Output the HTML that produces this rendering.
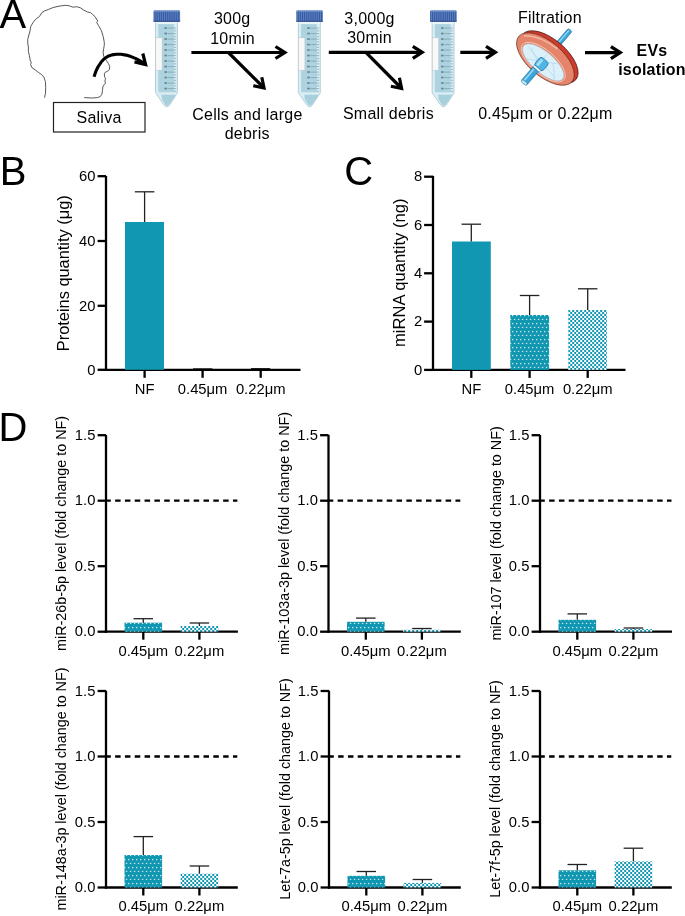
<!DOCTYPE html>
<html><head><meta charset="utf-8"><style>
html,body{margin:0;padding:0;background:#fff;}
body{width:685px;height:916px;overflow:hidden;position:relative;}
svg{position:absolute;left:0;top:0;will-change:transform;}
text{font-family:"Liberation Sans", sans-serif;fill:#000;}
</style></head><body>
<svg width="685" height="916" viewBox="0 0 685 916">
<defs>
<pattern id="dots" patternUnits="userSpaceOnUse" width="4" height="8" x="0" y="0">
<rect width="4" height="8" fill="#1297b2"/>
<rect x="0.05" y="2.95" width="1.3" height="1.3" fill="#fff" opacity="0.8"/>
<rect x="1.95" y="6.85" width="1.3" height="1.3" fill="#fff" opacity="0.8"/>
</pattern>
<pattern id="chk" patternUnits="userSpaceOnUse" width="4" height="4" x="2.2" y="0">
<rect width="4" height="4" fill="#fff"/>
<rect x="0" y="0" width="2" height="2" fill="#1297b2"/>
<rect x="2" y="2" width="2" height="2" fill="#1297b2"/>
</pattern>
<pattern id="ridge" patternUnits="userSpaceOnUse" width="1.9" height="20">
<rect width="1.9" height="20" fill="#5a80c2"/>
<rect width="0.9" height="20" fill="#34569a"/>
</pattern>
<g id="tube">
<path d="M2 11 L24 11 L24 82.3 L16.2 94.4 Q13.3 98.2 10.4 94.4 L2 82.3 Z" fill="#d9edf3" stroke="#93b6c5" stroke-width="0.6"/>
<rect x="4.8" y="13.6" width="15.8" height="68.2" rx="0.8" fill="#acd3df"/>
<rect x="2.3" y="11.2" width="21.4" height="2.4" fill="#e8f4f7"/>
<path d="M8 84.2 L21.6 84.2 Q22.3 84.6 21.6 85.8 L15.4 94.2 Q13.6 96.4 11.8 94.2 L8.6 89 Z" fill="#a7cfdc"/>
<rect x="2.3" y="27.3" width="6.3" height="32.4" fill="#f8f8f8" stroke="#bcc6ca" stroke-width="0.5"/>
<g stroke="#6f94a6" stroke-width="0.6">

<line x1="14.2" y1="17.60" x2="20.3" y2="17.60"/>
<line x1="20.5" y1="20.35" x2="22.8" y2="20.35"/>
<line x1="20.5" y1="17.60" x2="22.8" y2="17.60"/>
<line x1="14.2" y1="23.10" x2="20.3" y2="23.10"/>
<line x1="20.5" y1="25.85" x2="22.8" y2="25.85"/>
<line x1="20.5" y1="23.10" x2="22.8" y2="23.10"/>
<line x1="14.2" y1="28.60" x2="20.3" y2="28.60"/>
<line x1="20.5" y1="31.35" x2="22.8" y2="31.35"/>
<line x1="20.5" y1="28.60" x2="22.8" y2="28.60"/>
<line x1="14.2" y1="34.10" x2="20.3" y2="34.10"/>
<line x1="20.5" y1="36.85" x2="22.8" y2="36.85"/>
<line x1="20.5" y1="34.10" x2="22.8" y2="34.10"/>
<line x1="14.2" y1="39.60" x2="20.3" y2="39.60"/>
<line x1="20.5" y1="42.35" x2="22.8" y2="42.35"/>
<line x1="20.5" y1="39.60" x2="22.8" y2="39.60"/>
<line x1="14.2" y1="45.10" x2="20.3" y2="45.10"/>
<line x1="20.5" y1="47.85" x2="22.8" y2="47.85"/>
<line x1="20.5" y1="45.10" x2="22.8" y2="45.10"/>
<line x1="14.2" y1="50.60" x2="20.3" y2="50.60"/>
<line x1="20.5" y1="53.35" x2="22.8" y2="53.35"/>
<line x1="20.5" y1="50.60" x2="22.8" y2="50.60"/>
<line x1="14.2" y1="56.10" x2="20.3" y2="56.10"/>
<line x1="20.5" y1="58.85" x2="22.8" y2="58.85"/>
<line x1="20.5" y1="56.10" x2="22.8" y2="56.10"/>
<line x1="14.2" y1="61.60" x2="20.3" y2="61.60"/>
<line x1="20.5" y1="64.35" x2="22.8" y2="64.35"/>
<line x1="20.5" y1="61.60" x2="22.8" y2="61.60"/>
<line x1="14.2" y1="67.10" x2="20.3" y2="67.10"/>
<line x1="20.5" y1="69.85" x2="22.8" y2="69.85"/>
<line x1="20.5" y1="67.10" x2="22.8" y2="67.10"/>
<line x1="14.2" y1="72.60" x2="20.3" y2="72.60"/>
<line x1="20.5" y1="75.35" x2="22.8" y2="75.35"/>
<line x1="20.5" y1="72.60" x2="22.8" y2="72.60"/>
<line x1="14.2" y1="78.10" x2="20.3" y2="78.10"/>
<line x1="20.5" y1="80.85" x2="22.8" y2="80.85"/>
<line x1="20.5" y1="78.10" x2="22.8" y2="78.10"/>
</g><g fill="#46525c" opacity="0.6">
<rect x="10.9" y="16.70" width="2.6" height="1.7"/>
<rect x="10.9" y="22.20" width="2.6" height="1.7"/>
<rect x="10.9" y="27.70" width="2.6" height="1.7"/>
<rect x="10.9" y="33.20" width="2.6" height="1.7"/>
<rect x="10.9" y="38.70" width="2.6" height="1.7"/>
<rect x="10.9" y="44.20" width="2.6" height="1.7"/>
<rect x="10.9" y="49.70" width="2.6" height="1.7"/>
<rect x="10.9" y="55.20" width="2.6" height="1.7"/>
<rect x="10.9" y="60.70" width="2.6" height="1.7"/>
<rect x="10.9" y="66.20" width="2.6" height="1.7"/>
<rect x="10.9" y="71.70" width="2.6" height="1.7"/>
<rect x="10.9" y="77.20" width="2.6" height="1.7"/>
</g>
<rect x="0" y="0" width="26.6" height="11.2" rx="1.2" fill="url(#ridge)"/>
<rect x="0.3" y="0" width="26" height="1.2" rx="0.6" fill="#7294cc"/>
<rect x="0" y="10.2" width="26.6" height="1.1" fill="#34528f"/>
</g>
</defs>

<text font-size="40" text-anchor="start" transform="translate(-0.5 27.8)">A</text>
<path d="M44.5 97.6 L45.5 93.2 L45.7 87.3 L45.4 81.5 L43.9 77.1 L41.7 74.6 L38.8 72.7 L35.1 69.8 L31.9 67.6 L30.6 64.7 L31.3 62.2 L30.4 61.1 L29.3 55.2 L28.4 51.6 L28.4 47 L27.8 43.8 L27.7 39.4 L28.9 35 L30 30.7 L30.8 26.3 L33 22.6 L35.5 19.3 L39.5 16.4 L41.7 12.8 L44.6 10.9 L48.3 9.5 L52.7 7.7 L57 6.6 L61.4 5.8 L65.8 5.3 L69.3 5.8 L72.9 7.2 L76.6 6.7 L80.2 7.7 L83.9 10.2 L87.5 12 L90.5 12.6 L92.7 14.6 L95.2 16.8 L97.8 21.2 L96.6 22.3 L98.5 25.5 L101.4 30.7 L103.2 36.5 L104.3 42.3 L104.3 45 L103.7 48.6 L103.1 52.2 L103.7 56.1 L106.4 60.6 L108.5 63.6 L109.7 66.6 L109.4 69.6 L107.3 71.4 L105.2 72.3 L104.3 73.8 L104.6 76.8 L105.5 78.6 L104.9 81 L105.5 83.1 L103.7 85.2 L102.8 87 L102.5 90.6 L101.9 94.2 L100.1 96.7 L97.4 97.6 L92 98 L84.2 97.6" fill="none" stroke="#3a3a3a" stroke-width="0.85" stroke-linejoin="round"/>
<path d="M94 76.8 L96 71 L98.2 66.5 L101 62.3 L104.2 58.8 L108 56.3 L112 54.9 L116.5 54.2 L121 54.3 L126 55.1 L131 56.6 L136 58.6 L141 61.3 L144.5 63.6" fill="none" stroke="#000" stroke-width="3.1" stroke-linejoin="round"/>
<path d="M142.8 53.5 L145.6 64.6 L134.5 61.9" fill="none" stroke="#000" stroke-width="3.2" stroke-linejoin="miter"/>
<rect x="53.5" y="102.5" width="91.5" height="29.5" fill="none" stroke="#222" stroke-width="1.2"/>
<text font-size="16" text-anchor="middle" letter-spacing="0.25" transform="translate(99 122.9) scale(1 1.04)">Saliva</text>
<use href="#tube" x="153.5" y="10.5"/>
<use href="#tube" x="296.3" y="10.5"/>
<use href="#tube" x="430.1" y="10.5"/>
<line x1="191.4" y1="52.5" x2="284.8" y2="52.5" stroke="#000" stroke-width="3.2"/>
<path d="M275.5 46.5 L284.90000000000003 52.5 L275.5 58.5" fill="none" stroke="#000" stroke-width="3.2"/>
<line x1="228.4" y1="52.5" x2="264.1" y2="88" stroke="#000" stroke-width="3.2"/>
<path d="M253.3 85.7 L264.0 87.9 L261.8 77.2" fill="none" stroke="#000" stroke-width="3.2"/>
<line x1="328.8" y1="52.3" x2="422.1" y2="52.3" stroke="#000" stroke-width="3.2"/>
<path d="M412.8 46.3 L422.20000000000005 52.3 L412.8 58.3" fill="none" stroke="#000" stroke-width="3.2"/>
<line x1="365.9" y1="52.3" x2="401.7" y2="88.5" stroke="#000" stroke-width="3.2"/>
<path d="M390.9 86.2 L401.59999999999997 88.4 L399.4 77.7" fill="none" stroke="#000" stroke-width="3.2"/>
<line x1="460.3" y1="52.3" x2="495.3" y2="52.3" stroke="#000" stroke-width="3.2"/>
<path d="M486.0 46.3 L495.40000000000003 52.3 L486.0 58.3" fill="none" stroke="#000" stroke-width="3.2"/>
<line x1="585" y1="52.6" x2="620.2" y2="52.6" stroke="#000" stroke-width="3.2"/>
<path d="M610.9000000000001 46.6 L620.3000000000001 52.6 L610.9000000000001 58.6" fill="none" stroke="#000" stroke-width="3.2"/>
<text font-size="16" text-anchor="middle" letter-spacing="0.25" transform="translate(232.2 24.2) scale(1 1.04)">300g</text>
<text font-size="16" text-anchor="middle" letter-spacing="0.25" transform="translate(232.6 43.7) scale(1 1.04)">10min</text>
<text font-size="16" text-anchor="middle" letter-spacing="0.25" transform="translate(247.4 120.2) scale(1 1.04)">Cells and large</text>
<text font-size="16" text-anchor="middle" letter-spacing="0.25" transform="translate(247.2 139.4) scale(1 1.04)">debris</text>
<text font-size="16" text-anchor="middle" letter-spacing="0.25" transform="translate(369.5 24.2) scale(1 1.04)">3,000g</text>
<text font-size="16" text-anchor="middle" letter-spacing="0.25" transform="translate(369.6 43.4) scale(1 1.04)">30min</text>
<text font-size="16" text-anchor="middle" letter-spacing="0.25" transform="translate(388.4 119.2) scale(1 1.04)">Small debris</text>
<text font-size="16" text-anchor="middle" letter-spacing="0.25" transform="translate(549.9 22.8) scale(1 1.04)">Filtration</text>
<text font-size="16" text-anchor="middle" letter-spacing="0.25" transform="translate(545.4 118.8) scale(1 1.04)">0.45μm or 0.22μm</text>
<text font-size="16" text-anchor="middle" font-weight="bold" letter-spacing="0.2" transform="translate(652 56.0) scale(1 1.04)">EVs</text>
<text font-size="16" text-anchor="middle" font-weight="bold" letter-spacing="0.2" transform="translate(652 75.3) scale(1 1.04)">isolation</text>
<g transform="translate(545.4 59) rotate(40.5)">
<rect x="-2.5" y="-38.2" width="5" height="26" rx="1.6" fill="#3aa6dc" stroke="#1d6a92" stroke-width="0.6"/>
<rect x="-1.3" y="-37" width="1.3" height="22" fill="#9ad8f4"/>
<ellipse cx="1.6" cy="-4" rx="35" ry="17.3" fill="#cf3b2c" stroke="#3d1510" stroke-width="0.7"/>
<ellipse cx="0" cy="0" rx="35" ry="17.3" fill="#e4846a" stroke="#5a2016" stroke-width="0.6"/>
<path d="M-31 -4 Q-20 -14 2 -15.5" fill="none" stroke="#f5b9a4" stroke-width="1.6" stroke-linecap="round"/>
<ellipse cx="0.4" cy="3.8" rx="27.2" ry="11.8" fill="none" stroke="#f7cfc0" stroke-width="0.8"/>
<ellipse cx="0.5" cy="4" rx="25.6" ry="10.4" fill="#dcf0fa" stroke="#a4d2ea" stroke-width="0.5"/>
<path d="M-21 2 L20 8 M-14 12 L12 -4 M-2 -5 L0 14 M-18 0 Q-8 8 6 6 M8 -2 Q16 4 20 10" stroke="#a9d4ec" stroke-width="0.6" fill="none"/>
<rect x="-5.2" y="0.8" width="11" height="11" rx="3" fill="#4fb4e6" stroke="#1d6a92" stroke-width="0.6"/>
<rect x="-3.6" y="2.3" width="3" height="8" rx="1" fill="#a6def6"/>
<rect x="-4.4" y="11.6" width="8.4" height="2.6" fill="#eef8fc" stroke="#1d6a92" stroke-width="0.5"/>
<rect x="-4.4" y="14.2" width="7.2" height="17.4" rx="1" fill="#3aa6dc" stroke="#1d6a92" stroke-width="0.6"/>
<rect x="-3" y="15" width="1.6" height="15" fill="#9ad8f4"/>
<ellipse cx="-0.8" cy="31.6" rx="3.6" ry="1.6" fill="#c2e8f7" stroke="#1d6a92" stroke-width="0.5"/>
</g>
<text font-size="40" text-anchor="start" transform="translate(-0.3 185.3)">B</text>
<line x1="106" y1="175.9" x2="106" y2="371.0" stroke="#000" stroke-width="2.3"/>
<line x1="104.9" y1="369.8" x2="300.5" y2="369.8" stroke="#000" stroke-width="2.3"/>
<line x1="97.6" y1="176.2" x2="106" y2="176.2" stroke="#000" stroke-width="2.3"/>
<text font-size="14.8" text-anchor="end" transform="translate(95.4 180.89999999999998) scale(1 1.04)">60</text>
<line x1="97.6" y1="241.0" x2="106" y2="241.0" stroke="#000" stroke-width="2.3"/>
<text font-size="14.8" text-anchor="end" transform="translate(95.4 245.7) scale(1 1.04)">40</text>
<line x1="97.6" y1="305.8" x2="106" y2="305.8" stroke="#000" stroke-width="2.3"/>
<text font-size="14.8" text-anchor="end" transform="translate(95.4 310.5) scale(1 1.04)">20</text>
<line x1="97.6" y1="369.8" x2="106" y2="369.8" stroke="#000" stroke-width="2.3"/>
<text font-size="14.8" text-anchor="end" transform="translate(95.4 374.5) scale(1 1.04)">0</text>
<line x1="144.6" y1="369.8" x2="144.6" y2="377.8" stroke="#000" stroke-width="2.3"/>
<text font-size="14.8" text-anchor="middle" transform="translate(144.6 394.2) scale(1 1.04)">NF</text>
<line x1="202.6" y1="369.8" x2="202.6" y2="377.8" stroke="#000" stroke-width="2.3"/>
<text font-size="14.8" text-anchor="middle" transform="translate(202.6 394.2) scale(1 1.04)">0.45μm</text>
<line x1="260.7" y1="369.8" x2="260.7" y2="377.8" stroke="#000" stroke-width="2.3"/>
<text font-size="14.8" text-anchor="middle" transform="translate(260.7 394.2) scale(1 1.04)">0.22μm</text>
<rect x="125" y="222" width="39" height="147.8" fill="#1297b2"/>
<line x1="144.6" y1="222" x2="144.6" y2="191.8" stroke="#222" stroke-width="1.3"/>
<line x1="134.85" y1="191.8" x2="154.35" y2="191.8" stroke="#222" stroke-width="1.3"/>
<line x1="193" y1="369" x2="212.4" y2="369" stroke="#000" stroke-width="1.3"/>
<line x1="251" y1="368.8" x2="270.2" y2="368.8" stroke="#000" stroke-width="1.3"/>
<text font-size="16.38" text-anchor="middle" transform="translate(68.8 273.25) rotate(-90) scale(1 1.04)">Proteins quantity (μg)</text>
<text font-size="40" text-anchor="start" transform="translate(344.2 185.3)">C</text>
<line x1="433" y1="175.9" x2="433" y2="371.0" stroke="#000" stroke-width="2.3"/>
<line x1="431.9" y1="369.9" x2="625.5" y2="369.9" stroke="#000" stroke-width="2.3"/>
<line x1="424.1" y1="176.7" x2="433" y2="176.7" stroke="#000" stroke-width="2.3"/>
<text font-size="14.8" text-anchor="end" transform="translate(422.3 181.39999999999998) scale(1 1.04)">8</text>
<line x1="424.1" y1="225.0" x2="433" y2="225.0" stroke="#000" stroke-width="2.3"/>
<text font-size="14.8" text-anchor="end" transform="translate(422.3 229.7) scale(1 1.04)">6</text>
<line x1="424.1" y1="273.3" x2="433" y2="273.3" stroke="#000" stroke-width="2.3"/>
<text font-size="14.8" text-anchor="end" transform="translate(422.3 278.0) scale(1 1.04)">4</text>
<line x1="424.1" y1="321.6" x2="433" y2="321.6" stroke="#000" stroke-width="2.3"/>
<text font-size="14.8" text-anchor="end" transform="translate(422.3 326.3) scale(1 1.04)">2</text>
<line x1="424.1" y1="369.9" x2="433" y2="369.9" stroke="#000" stroke-width="2.3"/>
<text font-size="14.8" text-anchor="end" transform="translate(422.3 374.59999999999997) scale(1 1.04)">0</text>
<line x1="471.3" y1="369.9" x2="471.3" y2="377.9" stroke="#000" stroke-width="2.3"/>
<text font-size="14.8" text-anchor="middle" transform="translate(471.3 394.2) scale(1 1.04)">NF</text>
<line x1="529.6" y1="369.9" x2="529.6" y2="377.9" stroke="#000" stroke-width="2.3"/>
<text font-size="14.8" text-anchor="middle" transform="translate(529.6 394.2) scale(1 1.04)">0.45μm</text>
<line x1="587.7" y1="369.9" x2="587.7" y2="377.9" stroke="#000" stroke-width="2.3"/>
<text font-size="14.8" text-anchor="middle" transform="translate(587.7 394.2) scale(1 1.04)">0.22μm</text>
<rect x="452" y="241.5" width="38.8" height="128.4" fill="#1297b2"/>
<line x1="471.3" y1="241.5" x2="471.3" y2="224.2" stroke="#222" stroke-width="1.3"/>
<line x1="461.55" y1="224.2" x2="481.05" y2="224.2" stroke="#222" stroke-width="1.3"/>
<rect x="510.3" y="315" width="38.8" height="54.9" fill="url(#dots)"/>
<line x1="529.6" y1="315" x2="529.6" y2="295.5" stroke="#222" stroke-width="1.3"/>
<line x1="519.85" y1="295.5" x2="539.35" y2="295.5" stroke="#222" stroke-width="1.3"/>
<rect x="568.2" y="310" width="38.8" height="59.9" fill="url(#chk)"/>
<line x1="587.7" y1="310" x2="587.7" y2="288.8" stroke="#222" stroke-width="1.3"/>
<line x1="577.95" y1="288.8" x2="597.45" y2="288.8" stroke="#222" stroke-width="1.3"/>
<text font-size="16.6" text-anchor="middle" transform="translate(404.9 272.8) rotate(-90) scale(1 1.04)">miRNA quantity (ng)</text>
<text font-size="40" text-anchor="start" transform="translate(-1.5 441.2)">D</text>
<line x1="106.0" y1="434.90000000000003" x2="106.0" y2="632.8000000000001" stroke="#000" stroke-width="2.3"/>
<line x1="104.9" y1="631.7" x2="237.9" y2="631.7" stroke="#000" stroke-width="2.3"/>
<line x1="97.6" y1="631.7" x2="106.0" y2="631.7" stroke="#000" stroke-width="2.3"/>
<text font-size="14.8" text-anchor="end" transform="translate(95.4 636.4000000000001) scale(1 1.04)">0.0</text>
<line x1="97.6" y1="566.2" x2="106.0" y2="566.2" stroke="#000" stroke-width="2.3"/>
<text font-size="14.8" text-anchor="end" transform="translate(95.4 570.9000000000001) scale(1 1.04)">0.5</text>
<line x1="97.6" y1="500.70000000000005" x2="106.0" y2="500.70000000000005" stroke="#000" stroke-width="2.3"/>
<text font-size="14.8" text-anchor="end" transform="translate(95.4 505.40000000000003) scale(1 1.04)">1.0</text>
<line x1="97.6" y1="435.20000000000005" x2="106.0" y2="435.20000000000005" stroke="#000" stroke-width="2.3"/>
<text font-size="14.8" text-anchor="end" transform="translate(95.4 439.90000000000003) scale(1 1.04)">1.5</text>
<line x1="105.3" y1="500.70000000000005" x2="237.4" y2="500.70000000000005" stroke="#000" stroke-width="2.3" stroke-dasharray="5.5 4.32"/>
<line x1="143.3" y1="631.7" x2="143.3" y2="639.7" stroke="#000" stroke-width="2.3"/>
<text font-size="14.8" text-anchor="middle" transform="translate(143.3 655.9000000000001) scale(1 1.04)">0.45μm</text>
<line x1="199.4" y1="631.7" x2="199.4" y2="639.7" stroke="#000" stroke-width="2.3"/>
<text font-size="14.8" text-anchor="middle" transform="translate(199.4 655.9000000000001) scale(1 1.04)">0.22μm</text>
<rect x="124.50000000000001" y="622.7" width="37.6" height="9.0" fill="url(#dots)"/>
<line x1="143.3" y1="622.7" x2="143.3" y2="618.7" stroke="#222" stroke-width="1.3"/>
<line x1="133.55" y1="618.7" x2="153.05" y2="618.7" stroke="#222" stroke-width="1.3"/>
<rect x="180.6" y="626.0" width="37.6" height="5.7000000000000455" fill="url(#chk)"/>
<line x1="199.4" y1="626.0" x2="199.4" y2="623.0" stroke="#222" stroke-width="1.3"/>
<line x1="189.65" y1="623.0" x2="209.15" y2="623.0" stroke="#222" stroke-width="1.3"/>
<text font-size="14.35" text-anchor="middle" transform="translate(65.8 533.45) rotate(-90) scale(1 1.04)">miR-26b-5p level (fold change to NF)</text>
<line x1="328.5" y1="434.90000000000003" x2="328.5" y2="632.8000000000001" stroke="#000" stroke-width="2.3"/>
<line x1="327.4" y1="631.7" x2="460.8" y2="631.7" stroke="#000" stroke-width="2.3"/>
<line x1="320.1" y1="631.7" x2="328.5" y2="631.7" stroke="#000" stroke-width="2.3"/>
<text font-size="14.8" text-anchor="end" transform="translate(317.9 636.4000000000001) scale(1 1.04)">0.0</text>
<line x1="320.1" y1="566.2" x2="328.5" y2="566.2" stroke="#000" stroke-width="2.3"/>
<text font-size="14.8" text-anchor="end" transform="translate(317.9 570.9000000000001) scale(1 1.04)">0.5</text>
<line x1="320.1" y1="500.70000000000005" x2="328.5" y2="500.70000000000005" stroke="#000" stroke-width="2.3"/>
<text font-size="14.8" text-anchor="end" transform="translate(317.9 505.40000000000003) scale(1 1.04)">1.0</text>
<line x1="320.1" y1="435.20000000000005" x2="328.5" y2="435.20000000000005" stroke="#000" stroke-width="2.3"/>
<text font-size="14.8" text-anchor="end" transform="translate(317.9 439.90000000000003) scale(1 1.04)">1.5</text>
<line x1="327.8" y1="500.70000000000005" x2="460.3" y2="500.70000000000005" stroke="#000" stroke-width="2.3" stroke-dasharray="5.5 4.32"/>
<line x1="365.8" y1="631.7" x2="365.8" y2="639.7" stroke="#000" stroke-width="2.3"/>
<text font-size="14.8" text-anchor="middle" transform="translate(365.8 655.9000000000001) scale(1 1.04)">0.45μm</text>
<line x1="421.9" y1="631.7" x2="421.9" y2="639.7" stroke="#000" stroke-width="2.3"/>
<text font-size="14.8" text-anchor="middle" transform="translate(421.9 655.9000000000001) scale(1 1.04)">0.22μm</text>
<rect x="347.0" y="621.8" width="37.6" height="9.900000000000091" fill="url(#dots)"/>
<line x1="365.8" y1="621.8" x2="365.8" y2="618.1" stroke="#222" stroke-width="1.3"/>
<line x1="356.05" y1="618.1" x2="375.55" y2="618.1" stroke="#222" stroke-width="1.3"/>
<rect x="403.09999999999997" y="629.8" width="37.6" height="1.900000000000091" fill="url(#chk)"/>
<line x1="421.9" y1="629.8" x2="421.9" y2="628.5" stroke="#222" stroke-width="1.3"/>
<line x1="412.15" y1="628.5" x2="431.65" y2="628.5" stroke="#222" stroke-width="1.3"/>
<text font-size="14.35" text-anchor="middle" transform="translate(289.1 533.45) rotate(-90) scale(1 1.04)">miR-103a-3p level (fold change to NF)</text>
<line x1="540.0" y1="434.90000000000003" x2="540.0" y2="632.8000000000001" stroke="#000" stroke-width="2.3"/>
<line x1="538.9" y1="631.7" x2="672.0" y2="631.7" stroke="#000" stroke-width="2.3"/>
<line x1="531.6" y1="631.7" x2="540.0" y2="631.7" stroke="#000" stroke-width="2.3"/>
<text font-size="14.8" text-anchor="end" transform="translate(529.4 636.4000000000001) scale(1 1.04)">0.0</text>
<line x1="531.6" y1="566.2" x2="540.0" y2="566.2" stroke="#000" stroke-width="2.3"/>
<text font-size="14.8" text-anchor="end" transform="translate(529.4 570.9000000000001) scale(1 1.04)">0.5</text>
<line x1="531.6" y1="500.70000000000005" x2="540.0" y2="500.70000000000005" stroke="#000" stroke-width="2.3"/>
<text font-size="14.8" text-anchor="end" transform="translate(529.4 505.40000000000003) scale(1 1.04)">1.0</text>
<line x1="531.6" y1="435.20000000000005" x2="540.0" y2="435.20000000000005" stroke="#000" stroke-width="2.3"/>
<text font-size="14.8" text-anchor="end" transform="translate(529.4 439.90000000000003) scale(1 1.04)">1.5</text>
<line x1="539.3" y1="500.70000000000005" x2="671.5" y2="500.70000000000005" stroke="#000" stroke-width="2.3" stroke-dasharray="5.5 4.32"/>
<line x1="577.3" y1="631.7" x2="577.3" y2="639.7" stroke="#000" stroke-width="2.3"/>
<text font-size="14.8" text-anchor="middle" transform="translate(577.3 655.9000000000001) scale(1 1.04)">0.45μm</text>
<line x1="633.4" y1="631.7" x2="633.4" y2="639.7" stroke="#000" stroke-width="2.3"/>
<text font-size="14.8" text-anchor="middle" transform="translate(633.4 655.9000000000001) scale(1 1.04)">0.22μm</text>
<rect x="558.5" y="619.8" width="37.6" height="11.900000000000091" fill="url(#dots)"/>
<line x1="577.3" y1="619.8" x2="577.3" y2="613.9" stroke="#222" stroke-width="1.3"/>
<line x1="567.55" y1="613.9" x2="587.05" y2="613.9" stroke="#222" stroke-width="1.3"/>
<rect x="614.6" y="629.0" width="37.6" height="2.7000000000000455" fill="url(#chk)"/>
<line x1="633.4" y1="629.0" x2="633.4" y2="628.0" stroke="#222" stroke-width="1.3"/>
<line x1="623.65" y1="628.0" x2="643.15" y2="628.0" stroke="#222" stroke-width="1.3"/>
<text font-size="14.35" text-anchor="middle" transform="translate(500.8 533.45) rotate(-90) scale(1 1.04)">miR-107 level (fold change to NF)</text>
<line x1="106.0" y1="690.7" x2="106.0" y2="888.6" stroke="#000" stroke-width="2.3"/>
<line x1="104.9" y1="887.5" x2="237.8" y2="887.5" stroke="#000" stroke-width="2.3"/>
<line x1="97.6" y1="887.5" x2="106.0" y2="887.5" stroke="#000" stroke-width="2.3"/>
<text font-size="14.8" text-anchor="end" transform="translate(95.4 892.2) scale(1 1.04)">0.0</text>
<line x1="97.6" y1="822.0" x2="106.0" y2="822.0" stroke="#000" stroke-width="2.3"/>
<text font-size="14.8" text-anchor="end" transform="translate(95.4 826.7) scale(1 1.04)">0.5</text>
<line x1="97.6" y1="756.5" x2="106.0" y2="756.5" stroke="#000" stroke-width="2.3"/>
<text font-size="14.8" text-anchor="end" transform="translate(95.4 761.2) scale(1 1.04)">1.0</text>
<line x1="97.6" y1="691.0" x2="106.0" y2="691.0" stroke="#000" stroke-width="2.3"/>
<text font-size="14.8" text-anchor="end" transform="translate(95.4 695.7) scale(1 1.04)">1.5</text>
<line x1="105.3" y1="756.5" x2="237.3" y2="756.5" stroke="#000" stroke-width="2.3" stroke-dasharray="5.5 4.32"/>
<line x1="143.3" y1="887.5" x2="143.3" y2="895.5" stroke="#000" stroke-width="2.3"/>
<text font-size="14.8" text-anchor="middle" transform="translate(143.3 910.6) scale(1 1.04)">0.45μm</text>
<line x1="199.4" y1="887.5" x2="199.4" y2="895.5" stroke="#000" stroke-width="2.3"/>
<text font-size="14.8" text-anchor="middle" transform="translate(199.4 910.6) scale(1 1.04)">0.22μm</text>
<rect x="124.50000000000001" y="855.0" width="37.6" height="32.5" fill="url(#dots)"/>
<line x1="143.3" y1="855.0" x2="143.3" y2="836.6" stroke="#222" stroke-width="1.3"/>
<line x1="133.55" y1="836.6" x2="153.05" y2="836.6" stroke="#222" stroke-width="1.3"/>
<rect x="180.6" y="873.7" width="37.6" height="13.799999999999955" fill="url(#chk)"/>
<line x1="199.4" y1="873.7" x2="199.4" y2="866.0" stroke="#222" stroke-width="1.3"/>
<line x1="189.65" y1="866.0" x2="209.15" y2="866.0" stroke="#222" stroke-width="1.3"/>
<text font-size="14.35" text-anchor="middle" transform="translate(66.0 789.0) rotate(-90) scale(1 1.04)">miR-148a-3p level (fold change to NF)</text>
<line x1="329.0" y1="690.7" x2="329.0" y2="888.6" stroke="#000" stroke-width="2.3"/>
<line x1="327.9" y1="887.5" x2="460.8" y2="887.5" stroke="#000" stroke-width="2.3"/>
<line x1="320.6" y1="887.5" x2="329.0" y2="887.5" stroke="#000" stroke-width="2.3"/>
<text font-size="14.8" text-anchor="end" transform="translate(318.4 892.2) scale(1 1.04)">0.0</text>
<line x1="320.6" y1="822.0" x2="329.0" y2="822.0" stroke="#000" stroke-width="2.3"/>
<text font-size="14.8" text-anchor="end" transform="translate(318.4 826.7) scale(1 1.04)">0.5</text>
<line x1="320.6" y1="756.5" x2="329.0" y2="756.5" stroke="#000" stroke-width="2.3"/>
<text font-size="14.8" text-anchor="end" transform="translate(318.4 761.2) scale(1 1.04)">1.0</text>
<line x1="320.6" y1="691.0" x2="329.0" y2="691.0" stroke="#000" stroke-width="2.3"/>
<text font-size="14.8" text-anchor="end" transform="translate(318.4 695.7) scale(1 1.04)">1.5</text>
<line x1="328.3" y1="756.5" x2="460.3" y2="756.5" stroke="#000" stroke-width="2.3" stroke-dasharray="5.5 4.32"/>
<line x1="366.3" y1="887.5" x2="366.3" y2="895.5" stroke="#000" stroke-width="2.3"/>
<text font-size="14.8" text-anchor="middle" transform="translate(366.3 910.6) scale(1 1.04)">0.45μm</text>
<line x1="422.4" y1="887.5" x2="422.4" y2="895.5" stroke="#000" stroke-width="2.3"/>
<text font-size="14.8" text-anchor="middle" transform="translate(422.4 910.6) scale(1 1.04)">0.22μm</text>
<rect x="347.5" y="875.8" width="37.6" height="11.700000000000045" fill="url(#dots)"/>
<line x1="366.3" y1="875.8" x2="366.3" y2="871.5" stroke="#222" stroke-width="1.3"/>
<line x1="356.55" y1="871.5" x2="376.05" y2="871.5" stroke="#222" stroke-width="1.3"/>
<rect x="403.59999999999997" y="882.9" width="37.6" height="4.600000000000023" fill="url(#chk)"/>
<line x1="422.4" y1="882.9" x2="422.4" y2="879.5" stroke="#222" stroke-width="1.3"/>
<line x1="412.65" y1="879.5" x2="432.15" y2="879.5" stroke="#222" stroke-width="1.3"/>
<text font-size="14.35" text-anchor="middle" transform="translate(289.9 789.0) rotate(-90) scale(1 1.04)">Let-7a-5p level (fold change to NF)</text>
<line x1="540.0" y1="690.7" x2="540.0" y2="888.6" stroke="#000" stroke-width="2.3"/>
<line x1="538.9" y1="887.5" x2="671.8" y2="887.5" stroke="#000" stroke-width="2.3"/>
<line x1="531.6" y1="887.5" x2="540.0" y2="887.5" stroke="#000" stroke-width="2.3"/>
<text font-size="14.8" text-anchor="end" transform="translate(529.4 892.2) scale(1 1.04)">0.0</text>
<line x1="531.6" y1="822.0" x2="540.0" y2="822.0" stroke="#000" stroke-width="2.3"/>
<text font-size="14.8" text-anchor="end" transform="translate(529.4 826.7) scale(1 1.04)">0.5</text>
<line x1="531.6" y1="756.5" x2="540.0" y2="756.5" stroke="#000" stroke-width="2.3"/>
<text font-size="14.8" text-anchor="end" transform="translate(529.4 761.2) scale(1 1.04)">1.0</text>
<line x1="531.6" y1="691.0" x2="540.0" y2="691.0" stroke="#000" stroke-width="2.3"/>
<text font-size="14.8" text-anchor="end" transform="translate(529.4 695.7) scale(1 1.04)">1.5</text>
<line x1="539.3" y1="756.5" x2="671.3" y2="756.5" stroke="#000" stroke-width="2.3" stroke-dasharray="5.5 4.32"/>
<line x1="577.3" y1="887.5" x2="577.3" y2="895.5" stroke="#000" stroke-width="2.3"/>
<text font-size="14.8" text-anchor="middle" transform="translate(577.3 910.6) scale(1 1.04)">0.45μm</text>
<line x1="633.4" y1="887.5" x2="633.4" y2="895.5" stroke="#000" stroke-width="2.3"/>
<text font-size="14.8" text-anchor="middle" transform="translate(633.4 910.6) scale(1 1.04)">0.22μm</text>
<rect x="558.5" y="870.3" width="37.6" height="17.200000000000045" fill="url(#dots)"/>
<line x1="577.3" y1="870.3" x2="577.3" y2="864.5" stroke="#222" stroke-width="1.3"/>
<line x1="567.55" y1="864.5" x2="587.05" y2="864.5" stroke="#222" stroke-width="1.3"/>
<rect x="614.6" y="861.4" width="37.6" height="26.100000000000023" fill="url(#chk)"/>
<line x1="633.4" y1="861.4" x2="633.4" y2="848.2" stroke="#222" stroke-width="1.3"/>
<line x1="623.65" y1="848.2" x2="643.15" y2="848.2" stroke="#222" stroke-width="1.3"/>
<text font-size="14.35" text-anchor="middle" transform="translate(500.4 789.0) rotate(-90) scale(1 1.04)">Let-7f-5p level (fold change to NF)</text>
</svg>
</body></html>
